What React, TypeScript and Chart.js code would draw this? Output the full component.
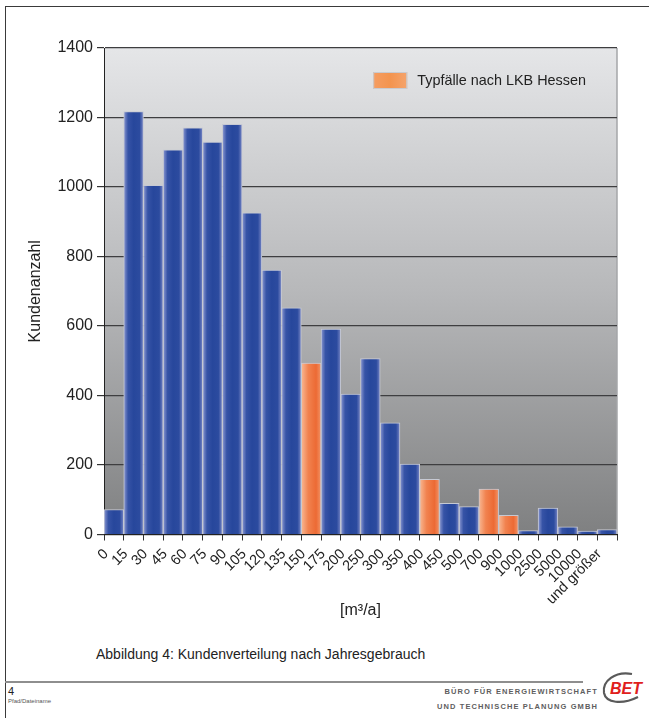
import { useEffect, useRef } from "react";
import { Chart, registerables } from "chart.js";

Chart.register(...registerables);

const FONT = "'Liberation Sans', Arial, Helvetica, sans-serif";

// Bin lower bounds [m³/a]
const categories = [
  "0", "15", "30", "45", "60", "75", "90", "105", "120", "135", "150",
  "175", "200", "250", "300", "350", "400", "450", "500", "700", "900",
  "1000", "2500", "5000", "10000", "und größer",
];
// Customers per bin
const customerCounts = [
  72, 1217, 1005, 1107, 1170, 1129, 1180, 926, 761, 652, 493,
  591, 404, 506, 321, 203, 159, 90, 80, 131, 55,
  11, 76, 22, 10, 14,
];
// Bins that are typical cases according to LKB Hessen
const typicalCaseBins = ["150", "400", "700", "900"];
const yTickValues = [0, 200, 400, 600, 800, 1000, 1200, 1400];

const legendLabel = "Typfälle nach LKB Hessen";
const yTitle = "Kundenanzahl";
const xTitle = "[m³/a]";
const caption = "Abbildung 4: Kundenverteilung nach Jahresgebrauch";

const blueStops: [number, string][] = [
  [0, "#8c99d2"], [0.22, "#3653a6"], [0.5, "#27479c"], [0.8, "#2c4b9f"], [1, "#7987c6"],
];
const orangeStops: [number, string][] = [
  [0, "#f8b893"], [0.35, "#f1824f"], [0.75, "#ec6a34"], [1, "#f19366"],
];

const barFill = (stops: [number, string][], fallback: string) => (c: any) => {
  const xs = c.chart?.scales?.x;
  if (c.type !== "data" || !xs || !c.raw) return fallback;
  const x0 = xs.getPixelForValue(c.raw.x - 0.5);
  const x1 = xs.getPixelForValue(c.raw.x + 0.5);
  if (!isFinite(x0) || !isFinite(x1)) return fallback;
  const g = c.chart.ctx.createLinearGradient(x0, 0, x1, 0);
  stops.forEach(([o, col]) => g.addColorStop(o, col));
  return g;
};

const plotBackground = {
  id: "plotBackground",
  beforeDraw(chart: any) {
    const { ctx, chartArea: a } = chart;
    if (!a) return;
    const g = ctx.createLinearGradient(0, a.top, 0, a.bottom);
    g.addColorStop(0, "#e5e6e8");
    g.addColorStop(0.5, "#b7b8ba");
    g.addColorStop(1, "#7f8081");
    ctx.save();
    ctx.fillStyle = g;
    ctx.fillRect(a.left, a.top, a.right - a.left, a.bottom - a.top);
    ctx.strokeStyle = "#a4a6a9";
    ctx.lineWidth = 1.5;
    ctx.beginPath();
    ctx.moveTo(a.right, a.top);
    ctx.lineTo(a.right, a.bottom);
    ctx.stroke();
    ctx.restore();
  },
};

// Legend placed inside the plot area, top right
const insideLegend = {
  id: "insideLegend",
  afterDatasetsDraw(chart: any) {
    const { ctx, chartArea: a } = chart;
    if (!a) return;
    const ds = chart.data.datasets[1];
    ctx.save();
    ctx.font = `14.4px ${FONT}`;
    const tw = ctx.measureText(ds.label).width;
    const textX = a.right - 31 - tw;
    const boxW = 34;
    const boxH = 17;
    const boxX = textX - 10 - boxW;
    const boxY = a.top + 24;
    const g = ctx.createLinearGradient(boxX, 0, boxX + boxW, 0);
    g.addColorStop(0, "#f59d62");
    g.addColorStop(0.5, "#f3944f");
    g.addColorStop(1, "#f5a46c");
    ctx.fillStyle = g;
    ctx.fillRect(boxX, boxY, boxW, boxH);
    ctx.strokeStyle = "#c8cacf";
    ctx.lineWidth = 1;
    ctx.strokeRect(boxX + 0.5, boxY + 0.5, boxW - 1, boxH - 1);
    ctx.fillStyle = "#222";
    ctx.textBaseline = "middle";
    ctx.textAlign = "left";
    ctx.fillText(ds.label, textX, boxY + boxH / 2 + 0.5);
    ctx.restore();
  },
};

function BarChart() {
  const ref = useRef<HTMLCanvasElement | null>(null);
  useEffect(() => {
    if (!ref.current) return;
    const points = categories.map((c, i) => ({ c, x: i + 0.5, y: customerCounts[i] }));
    const blueData = points
      .filter((d) => !typicalCaseBins.includes(d.c))
      .map(({ x, y }) => ({ x, y }));
    const orangeData = points
      .filter((d) => typicalCaseBins.includes(d.c))
      .map(({ x, y }) => ({ x, y }));

    const chart = new Chart(ref.current, {
      type: "bar",
      data: {
        datasets: [
          {
            label: "Kunden",
            data: blueData as any,
            backgroundColor: barFill(blueStops, "#2c4b9f") as any,
            borderColor: "#c6c9d3",
            borderWidth: 1,
            grouped: false,
            barPercentage: 1,
            categoryPercentage: 1,
          } as any,
          {
            label: legendLabel,
            data: orangeData as any,
            backgroundColor: barFill(orangeStops, "#f39150") as any,
            borderColor: "#c6c9d3",
            borderWidth: 1,
            grouped: false,
            barPercentage: 1,
            categoryPercentage: 1,
          } as any,
        ],
      },
      options: {
        animation: false,
        responsive: false,
        maintainAspectRatio: false,
        layout: { padding: { left: 0, top: 48, right: 32, bottom: 0 } },
        scales: {
          x: {
            type: "linear",
            min: 0,
            max: categories.length,
            offset: false,
            grid: {
              offset: false,
              drawOnChartArea: false,
              drawTicks: true,
              tickLength: 6,
              color: "#333",
            },
            border: { display: true, color: "#222", width: 1 },
            ticks: {
              stepSize: 1,
              autoSkip: false,
              maxTicksLimit: 100,
              minRotation: 45,
              maxRotation: 45,
              padding: 5,
              labelOffset: 2,
              color: "#222",
              font: { family: FONT, size: 14.5 },
              callback: (v: any) => categories[Number(v)] ?? "",
            },
            title: {
              display: true,
              text: xTitle,
              color: "#222",
              font: { family: FONT, size: 16 },
              padding: { top: 0, bottom: 0 },
            },
            afterFit: (s: any) => {
              s.height = 85.5;
            },
          } as any,
          y: {
            type: "linear",
            min: 0,
            max: 1400,
            grid: {
              color: "#3e3e40",
              lineWidth: 1.2,
              drawTicks: true,
              tickLength: 7,
              tickColor: "#333",
            },
            border: { display: true, color: "#222", width: 1 },
            afterBuildTicks: (s: any) => {
              s.ticks = yTickValues.map((v) => ({ value: v }));
            },
            ticks: {
              padding: 4,
              color: "#222",
              font: { family: FONT, size: 16 },
              callback: (v: any) => String(v),
            },
            title: {
              display: true,
              text: yTitle,
              color: "#222",
              font: { family: FONT, size: 16 },
              padding: { top: 26, bottom: 0 },
            },
            afterFit: (s: any) => {
              s.width = 104;
            },
          } as any,
        },
        plugins: {
          legend: { display: false },
          tooltip: { enabled: false },
        },
      },
      plugins: [plotBackground, insideLegend],
    });
    return () => chart.destroy();
  }, []);
  return (
    <canvas
      ref={ref}
      width={649}
      height={620}
      style={{ position: "absolute", left: 0, top: 0, width: 649, height: 620 }}
    />
  );
}

export default function App() {
  return (
    <div
      style={{
        position: "absolute",
        left: 0,
        top: 0,
        width: 649,
        height: 718,
        background: "#fff",
        overflow: "hidden",
        fontFamily: FONT,
        color: "#222",
      }}
    >
      <div
        style={{
          position: "absolute",
          left: 5,
          top: 6,
          width: 650,
          height: 720,
          borderLeft: "1.5px solid #3a3a3a",
          borderTop: "1.5px solid #3a3a3a",
        }}
      />
      <BarChart />
      <div style={{ position: "absolute", left: 96, top: 646, fontSize: 14, lineHeight: "16px", whiteSpace: "nowrap" }}>
        {caption}
      </div>
      <div style={{ position: "absolute", left: 5, top: 681, width: 578, borderTop: "2px solid #8e8e8e" }} />
      <div style={{ position: "absolute", left: 8, top: 685, fontSize: 11, lineHeight: "12px" }}>4</div>
      <div style={{ position: "absolute", left: 8, top: 698, fontSize: 6, lineHeight: "7px", color: "#555" }}>
        Pfad/Dateiname
      </div>
      <div
        style={{
          position: "absolute",
          right: 51,
          top: 684,
          fontSize: 7.5,
          lineHeight: "15px",
          fontWeight: 700,
          letterSpacing: 1.1,
          color: "#5e5e5e",
          textAlign: "right",
          whiteSpace: "nowrap",
        }}
      >
        <div>BÜRO FÜR ENERGIEWIRTSCHAFT</div>
        <div>UND TECHNISCHE PLANUNG GMBH</div>
      </div>
      <svg
        style={{ position: "absolute", left: 600, top: 667, overflow: "visible" }}
        width={46}
        height={42}
        viewBox="0 0 46 42"
      >
        <path d="M 32 7 C 15 4, 2 14, 4 26 C 6 36, 22 38, 38 30" fill="none" stroke="#5a5a5a" strokeWidth={2.2} />
        <text x={10} y={27} fontFamily={FONT} fontWeight={700} fontStyle="italic" fontSize={16} fill="#e0201c">
          BET
        </text>
      </svg>
    </div>
  );
}
